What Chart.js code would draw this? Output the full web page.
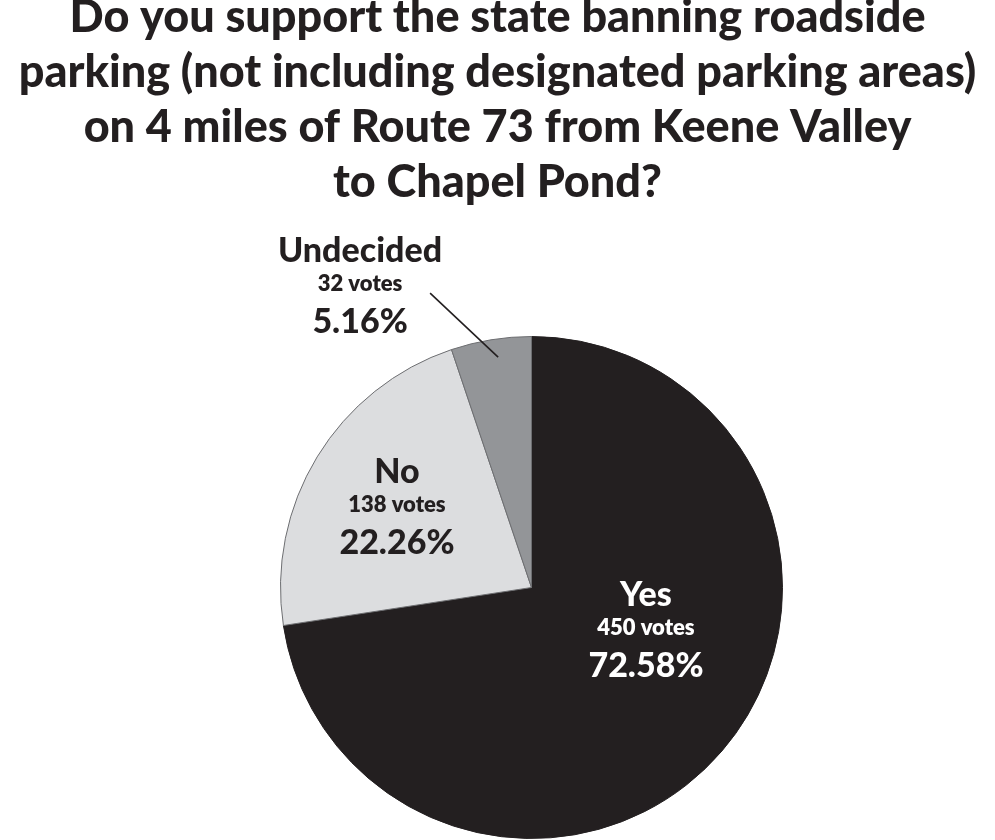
<!DOCTYPE html>
<html>
<head>
<meta charset="utf-8">
<script src="https://cdn.jsdelivr.net/npm/chart.js@4.4.1/dist/chart.umd.min.js"></script>
<style>
  body { margin: 0; background: #fff; overflow: hidden; }
  #wrap { width: 995px; height: 840px; position: relative; }
</style>
</head>
<body>
<div id="wrap"><canvas id="myChart"></canvas></div>
<script>
// Poll data
const categories = ["Yes", "No", "Undecided"];
const votes = [450, 138, 32];
const titleLines = [
  "Do you support the state banning roadside",
  "parking (not including designated parking areas)",
  "on 4 miles of Route 73 from Keene Valley",
  "to Chapel Pond?"
];

// Slice styling
const sliceColors = ["#231f20", "#dcdddf", "#939598"];
const sliceBorders = ["#231f20", "#6d6e71", "#6d6e71"];
const labelColors = ["#ffffff", "#231f20", "#231f20"];
// label anchor (votes line) relative to pie centre, in radius units
const labelPos = [[0.456, 0.161], [-0.536, -0.329], [-0.683, -1.209]];
// leader line for the small slice (start, end), radius units
const leaders = [null, null, [[-0.404, -1.173], [-0.133, -0.918]]];

const total = votes.reduce((a, b) => a + b, 0);
const labelFont = "Lato, 'Open Sans', sans-serif";

// Centred multi-line headline across the full page width
const headline = {
  id: "headline",
  afterDraw(chart) {
    const ctx = chart.ctx;
    ctx.save();
    ctx.fillStyle = "#231f20";
    ctx.textAlign = "center";
    ctx.textBaseline = "alphabetic";
    ctx.font = "900 45px " + labelFont;
    titleLines.forEach((line, i) => {
      ctx.fillText(line, chart.width / 2, 32 + i * 55);
    });
    ctx.restore();
  }
};

// Draws name / votes / percent inside (or beside) each slice
const sliceLabels = {
  id: "sliceLabels",
  afterDatasetsDraw(chart) {
    const ctx = chart.ctx;
    const arcs = chart.getDatasetMeta(0).data;
    const cx = arcs[0].x, cy = arcs[0].y, r = arcs[0].outerRadius;
    ctx.save();
    ctx.textAlign = "center";
    ctx.textBaseline = "middle";
    categories.forEach((name, i) => {
      const x = cx + labelPos[i][0] * r;
      const y = cy + labelPos[i][1] * r;
      ctx.fillStyle = labelColors[i];
      ctx.font = "900 34px " + labelFont;
      ctx.fillText(name, x, y - 33);
      ctx.font = "800 22px " + labelFont;
      ctx.fillText(votes[i] + " votes", x, y);
      ctx.font = "900 34px " + labelFont;
      ctx.fillText((votes[i] / total * 100).toFixed(2) + "%", x, y + 38);
      if (leaders[i]) {
        const [a, b] = leaders[i];
        ctx.strokeStyle = "#231f20";
        ctx.lineWidth = 1.6;
        ctx.beginPath();
        ctx.moveTo(cx + a[0] * r, cy + a[1] * r);
        ctx.lineTo(cx + b[0] * r, cy + b[1] * r);
        ctx.stroke();
      }
    });
    ctx.restore();
  }
};

const chrt = document.getElementById("myChart");
new Chart(chrt, {
  type: "pie",
  data: {
    labels: categories,
    datasets: [{
      data: votes,
      backgroundColor: sliceColors,
      borderColor: sliceBorders,
      borderWidth: 1
    }]
  },
  options: {
    responsive: true,
    maintainAspectRatio: false,
    animation: false,
    layout: { padding: { left: 280, right: 212, top: 336, bottom: 1 } },
    plugins: {
      legend: { display: false },
      tooltip: { enabled: false },
      title: { display: false }
    }
  },
  plugins: [sliceLabels, headline]
});
</script>
</body>
</html>
